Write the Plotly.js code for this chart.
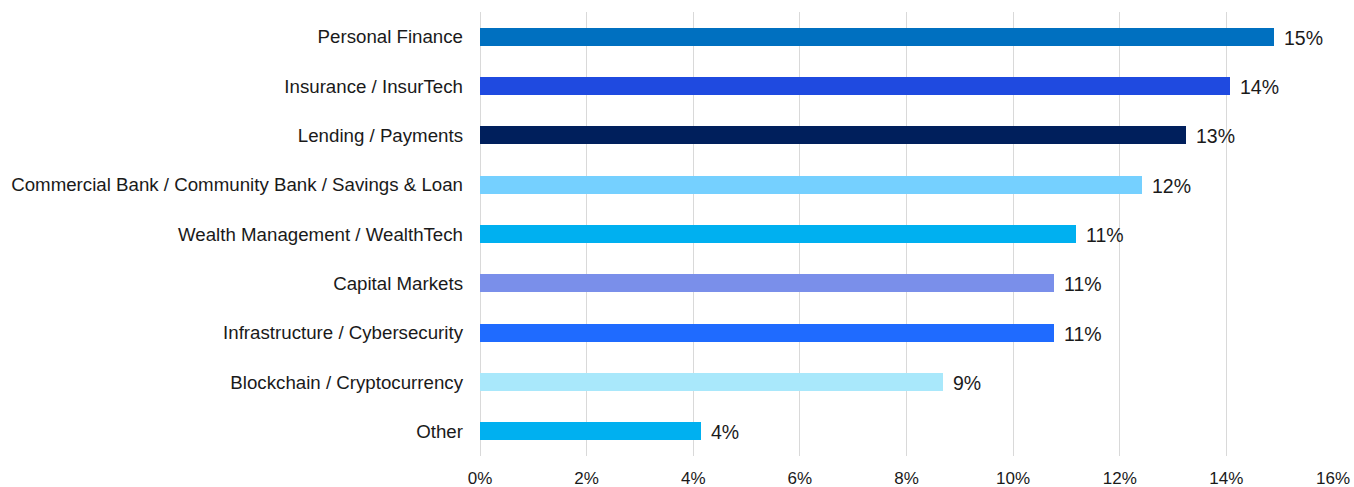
<!DOCTYPE html>
<html>
<head>
<meta charset="utf-8">
<script src="https://cdn.plot.ly/plotly-3.0.1.min.js"></script>
<style>html,body{margin:0;padding:0;background:#fff;}#chart{width:1354px;height:487px;}</style>
</head>
<body>
<div id="chart"></div>
<script>
const categories = [
  "Personal Finance",
  "Insurance / InsurTech",
  "Lending / Payments",
  "Commercial Bank / Community Bank / Savings & Loan",
  "Wealth Management / WealthTech",
  "Capital Markets",
  "Infrastructure / Cybersecurity",
  "Blockchain / Cryptocurrency",
  "Other"
];
const values = [0.149, 0.1407, 0.1324, 0.1242, 0.1118, 0.1077, 0.1077, 0.0869, 0.0415];
const labels = ["15%", "14%", "13%", "12%", "11%", "11%", "11%", "9%", "4%"];
const colors = ["#0070C0", "#1F4AE0", "#001F5C", "#75D0FF", "#00B0F0", "#7A8FEA", "#1F6BFF", "#A9E8FB", "#00B0F0"];
const tickVals = [0, 0.02, 0.04, 0.06, 0.08, 0.10, 0.12, 0.14, 0.16];
const tickText = ["0%", "2%", "4%", "6%", "8%", "10%", "12%", "14%", "16%"];

const trace = {
  type: "bar",
  orientation: "h",
  x: values,
  y: categories,
  width: 0.365,
  marker: { color: colors },
  hoverinfo: "none"
};

const annotations = values.map((v, i) => ({
  x: v, y: categories[i], xref: "x", yref: "y",
  text: labels[i], showarrow: false, xanchor: "left", yanchor: "middle",
  xshift: 8, yshift: -1, font: { family: "Liberation Sans, Arial, sans-serif", size: 19.5, color: "#1a1a1a" }
}));

const layout = {
  width: 1354, height: 487,
  margin: { l: 480, r: 21, t: 12, b: 31 },
  paper_bgcolor: "#fff", plot_bgcolor: "#fff",
  font: { family: "Liberation Sans, Arial, sans-serif", color: "#1a1a1a", size: 16 },
  showlegend: false,
  bargap: 0,
  xaxis: {
    range: [0, 0.16], tickvals: tickVals, ticktext: tickText,
    showgrid: true, gridcolor: "#d9d9d9", gridwidth: 1,
    zeroline: true, zerolinecolor: "#d9d9d9", zerolinewidth: 1,
    showline: false, ticks: "", tickfont: { size: 17 },
    ticklabelstandoff: 10, fixedrange: true
  },
  yaxis: {
    type: "category", autorange: "reversed",
    showgrid: false, zeroline: false, showline: false, ticks: "",
    ticklabelstandoff: 16,
    tickfont: { size: 18.7 }
  },
  annotations: annotations
};

Plotly.newPlot("chart", [trace], layout, { displayModeBar: false, staticPlot: true });
</script>
</body>
</html>
